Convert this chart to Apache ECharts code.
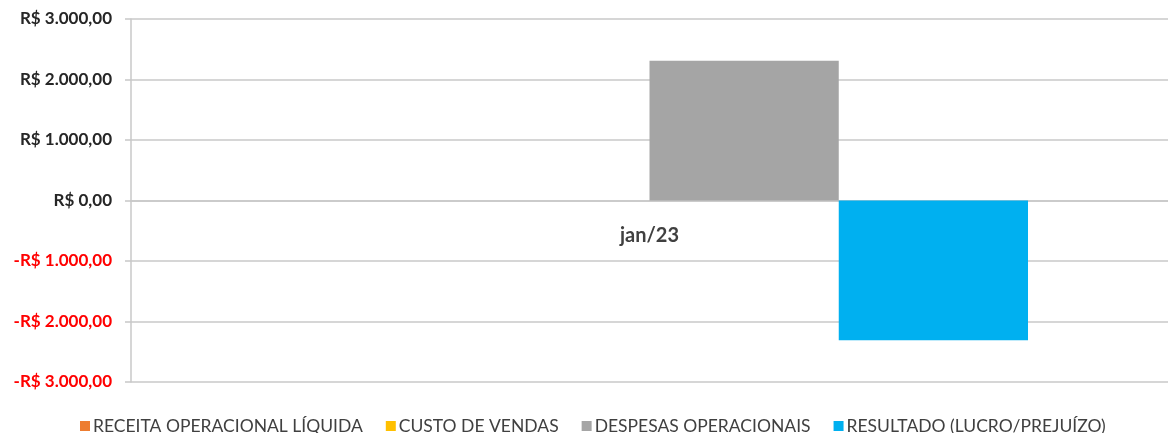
<!DOCTYPE html>
<html>
<head>
<meta charset="utf-8">
<script src="https://cdn.jsdelivr.net/npm/echarts@6/dist/echarts.min.js"></script>
<style>
  html, body { margin: 0; padding: 0; background: #fff; }
  #chart { width: 1168px; height: 433px; }
</style>
</head>
<body>
<div id="chart"></div>
<script>
// Data
const categories = ['jan/23'];
const seriesNames = ['RECEITA OPERACIONAL LÍQUIDA', 'CUSTO DE VENDAS', 'DESPESAS OPERACIONAIS', 'RESULTADO (LUCRO/PREJUÍZO)'];
const receita = [0];
const custo = [0];
const despesas = [2310];
const resultado = [-2310];
const yTickValues = [-3000, -2000, -1000, 0, 1000, 2000, 3000];
const yTickLabels = ['-R$ 3.000,00', '-R$ 2.000,00', '-R$ 1.000,00', 'R$ 0,00', 'R$ 1.000,00', 'R$ 2.000,00', 'R$ 3.000,00'];
const colors = ['#ED7D31', '#FFC000', '#A5A5A5', '#00B0F0'];

document.addEventListener('DOMContentLoaded', () => {
  const chart = echarts.init(document.getElementById('chart'));

  const allValues = [receita, custo, despesas, resultado];

  const option = {
    animation: false,
    color: colors,
    textStyle: { fontFamily: 'Lato, "Open Sans", sans-serif' },
    grid: { left: 131, right: 0, top: 19, bottom: 51 },
    legend: {
      top: 412,
      left: 75,
      itemWidth: 10,
      itemHeight: 10,
      itemGap: 23,
      icon: 'rect',
      textStyle: { color: '#404040', fontSize: 17.5, padding: [0, 0, 0, -2] },
      data: seriesNames
    },
    xAxis: {
      type: 'category',
      data: categories,
      // put the category axis on the zero line, like the original
      offset: -181,
      axisLine: { onZero: false, lineStyle: { color: '#c8c8c8', width: 1.5 } },
      axisTick: { show: false },
      axisLabel: { color: '#404040', fontSize: 20, fontWeight: 'bold', margin: 25 }
    },
    yAxis: {
      type: 'value',
      min: -3000,
      max: 3000,
      interval: 1000,
      axisLine: { show: true, lineStyle: { color: '#c8c8c8', width: 1.5 } },
      axisTick: { show: true, length: 6, lineStyle: { color: '#c8c8c8', width: 1.5 } },
      splitLine: { lineStyle: { color: '#c8c8c8', width: 1.5 } },
      axisLabel: {
        fontSize: 17,
        fontWeight: 'bold',
        margin: 19,
        color: v => (v < 0 ? '#ff0000' : '#262626'),
        formatter: v => yTickLabels[yTickValues.indexOf(v)]
      }
    },
    series: seriesNames.map((name, i) => ({
      name,
      type: 'bar',
      data: allValues[i],
      barGap: '0%',
      barCategoryGap: '27%'
    }))
  };

  chart.setOption(option);
  window.addEventListener('resize', () => chart.resize());
});
</script>
</body>
</html>
